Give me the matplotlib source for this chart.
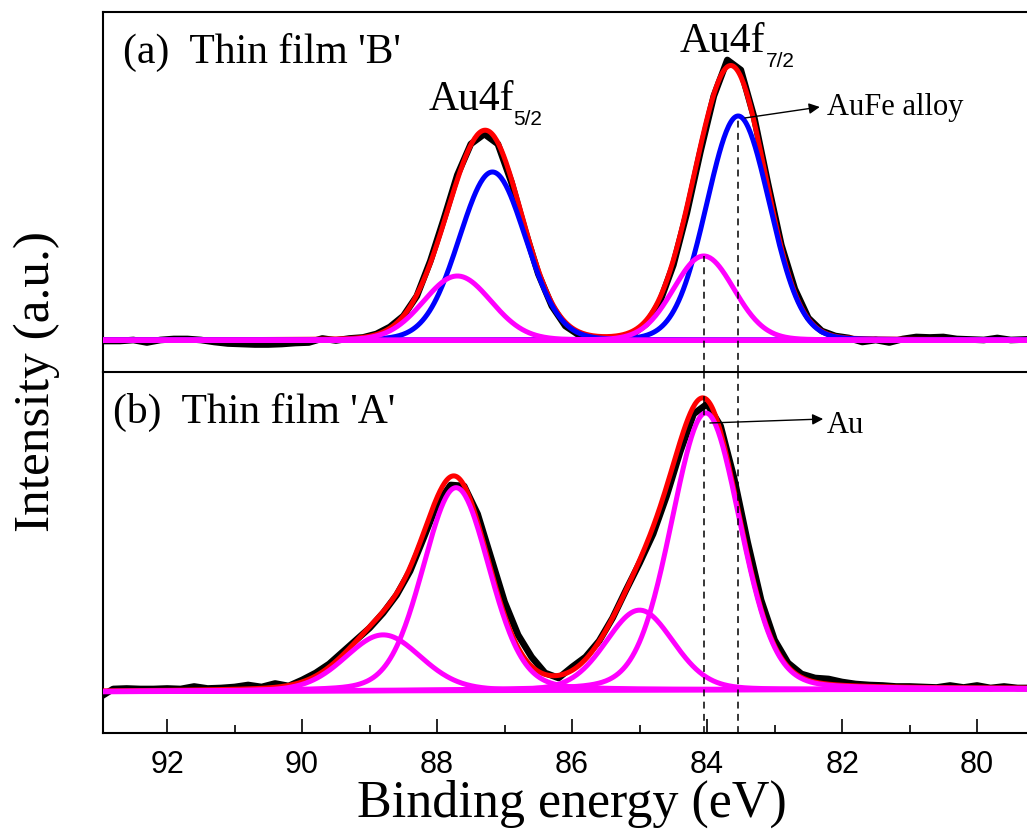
import numpy as np
import matplotlib
matplotlib.use("Agg")
import matplotlib.pyplot as plt
from matplotlib.ticker import MultipleLocator

plt.rcParams["font.family"] = "sans-serif"
plt.rcParams["font.sans-serif"] = ["Liberation Sans", "DejaVu Sans"]
SERIF = "Liberation Serif"

# ---- measured Au4f spectrum, thin film 'B' (panel a) ----
e_filmB = [92.9, 92.7, 92.5, 92.3, 92.1, 91.9, 91.7, 91.5, 91.3, 91.1, 90.9, 90.7,
           90.5, 90.3, 90.1, 89.9, 89.7, 89.5, 89.3, 89.1, 88.9, 88.7, 88.5, 88.3,
           88.1, 87.9, 87.7, 87.5, 87.3, 87.1, 86.9, 86.7, 86.5, 86.3, 86.1, 85.9,
           85.7, 85.5, 85.3, 85.1, 84.9, 84.7, 84.5, 84.3, 84.1, 83.9, 83.7, 83.5,
           83.3, 83.1, 82.9, 82.7, 82.5, 82.3, 82.1, 81.9, 81.7, 81.5, 81.3, 81.1,
           80.9, 80.7, 80.5, 80.3, 80.1, 79.9, 79.7, 79.5, 79.3]
cps_filmB = [-1, -1, 0, -2.5, 0, 1, 1, 0, -2, -3.5, -4, -4.5,
             -4.5, -4, -3, -2.5, 1.5, -0.5, 1.5, 2.5, 6, 13, 24, 44,
             79, 121, 165, 196, 206, 196, 158, 110, 66, 34, 14, 5,
             1.5, 1, 2, 6, 16, 38, 75, 127, 188, 244, 280, 270,
             222, 157, 95, 51, 22, 9, 4, 2, -2, 0, -2.5, 1,
             3, 2.5, 3, 1, 0.5, 0, 2, 0, 0.5]

# ---- measured Au4f spectrum, thin film 'A' (panel b) ----
e_filmA = [92.92, 92.8, 92.6, 92.4, 92.2, 92.0, 91.8, 91.6, 91.4, 91.2, 91.0, 90.8,
           90.6, 90.4, 90.2, 90.0, 89.8, 89.6, 89.4, 89.2, 89.0, 88.8, 88.6, 88.4,
           88.2, 88.0, 87.8, 87.6, 87.4, 87.2, 87.0, 86.8, 86.6, 86.4, 86.2, 86.0,
           85.8, 85.6, 85.4, 85.2, 85.0, 84.8, 84.6, 84.4, 84.2, 84.0, 83.8, 83.6,
           83.4, 83.2, 83.0, 82.8, 82.6, 82.4, 82.2, 82.0, 81.8, 81.6, 81.4, 81.2,
           81.0, 80.8, 80.6, 80.4, 80.2, 80.0, 79.8, 79.6, 79.4, 79.2]
cps_filmA = [-4, 1, 1.5, 1, 1, 1.5, 1, 3.5, 1.5, 2, 3, 5,
             3, 6.5, 4, 10, 17, 26, 38, 50, 62, 77, 95, 119,
             152, 186, 205, 204, 176, 132, 88, 55, 33, 17, 12, 23,
             33, 49, 72, 100, 127, 156, 194, 238, 276, 286, 264, 212,
             148, 90, 50, 27, 16, 12, 11, 8, 6, 5, 4.5, 3.5,
             3.5, 3, 2.5, 4.5, 2.5, 4.5, 2, 3.5, 2, 2]

# ---- fitted components (pseudo-Voigt: centre, height, HWHM) ----
filmB_center = [83.54, 84.05, 87.18, 87.70]
filmB_height = [224, 84, 168, 64]
filmB_hwhm = [0.55, 0.53, 0.58, 0.59]
filmB_phase = ["AuFe", "Au", "AuFe", "Au"]
filmB_eta = 0.05

filmA_center = [84.02, 85.00, 87.72, 88.80]
filmA_height = [277, 80, 203, 56]
filmA_hwhm = [0.60, 0.59, 0.58, 0.66]
filmA_phase = ["Au", "Au", "Au", "Au"]
filmA_eta = 0.15

# linear background (value at high / low energy end)
bg_ends = [92.92, 79.2]
filmB_bg = [0.0, 0.0]
filmA_bg = [-1.7, 1.0]

PHASE_COLOR = {"AuFe": "#0000FF", "Au": "#FF00FF"}
XLIM = (92.95, 79.26)


def pvoigt(x, c, h, w, eta):
    u = (x - c) / w
    return h * ((1 - eta) * np.exp(-np.log(2) * u**2) + eta / (1 + u**2))


def draw_panel(ax, e, cps, centers, heights, hwhms, phases, eta, bg_vals):
    x = np.linspace(bg_ends[0], bg_ends[1], 800)
    bg = np.interp(x, bg_ends[::-1], bg_vals[::-1])
    comps = [pvoigt(x, c, h, w, eta) for c, h, w in zip(centers, heights, hwhms)]
    ax.plot(e, cps, color="black", lw=4.8, solid_joinstyle="round", zorder=2)
    ax.plot(x, bg + np.sum(comps, axis=0), color="#FF0000", lw=3.6, zorder=3)
    for ph in ["AuFe", "Au"]:
        for comp, p in zip(comps, phases):
            if p == ph:
                ax.plot(x, bg + comp, color=PHASE_COLOR[p], lw=3.6, zorder=4)
    ax.plot(x, bg, color="#FF00FF", lw=3.6, zorder=5)


fig = plt.figure(figsize=(10.27, 8.32), dpi=100)
ax_a = fig.add_axes([0.1003, 0.5529, 0.8997, 0.4327])
ax_b = fig.add_axes([0.1003, 0.1190, 0.8997, 0.4339])

draw_panel(ax_a, e_filmB, cps_filmB, filmB_center, filmB_height, filmB_hwhm,
           filmB_phase, filmB_eta, filmB_bg)
draw_panel(ax_b, e_filmA, cps_filmA, filmA_center, filmA_height, filmA_hwhm,
           filmA_phase, filmA_eta, filmA_bg)

ax_a.set_ylim(-32, 328)
ax_b.set_ylim(-43, 318)
for ax in (ax_a, ax_b):
    ax.set_xlim(*XLIM)
    ax.set_yticks([])
    ax.spines["right"].set_visible(False)
    for s in ("left", "top", "bottom"):
        ax.spines[s].set_linewidth(1.5)
ax_a.spines["bottom"].set_visible(False)
ax_a.set_xticks([])

ax_b.set_xticks([92, 90, 88, 86, 84, 82, 80])
ax_b.xaxis.set_minor_locator(MultipleLocator(1))
ax_b.tick_params(axis="x", which="major", direction="in", length=10, width=1.2,
                 labelsize=22, pad=12)
ax_b.tick_params(axis="x", which="minor", direction="in", length=6, width=1.2)

# reference lines at the Au and AuFe 4f7/2 positions
au_e, aufe_e = filmB_center[1], filmB_center[0]
dash = (0, (4.5, 3.5))
ax_a.vlines(aufe_e, -32, filmB_height[0], colors="black", lw=1.1, linestyles=dash, zorder=6)
ax_a.vlines(au_e, -32, filmB_height[1], colors="black", lw=1.1, linestyles=dash, zorder=6)
for xe in (au_e, aufe_e):
    ax_b.axvline(xe, color="black", lw=1.1, linestyle=dash, zorder=6)

# labels
ax_a.text(0.0216, 0.858, "(a)  Thin film 'B'", transform=ax_a.transAxes,
          fontsize=30, family=SERIF, va="baseline")
ax_b.text(0.011, 0.8596, "(b)  Thin film 'A'", transform=ax_b.transAxes,
          fontsize=30, family=SERIF, va="baseline")

ax_a.text(88.13, 230, "Au4f", fontsize=30, family=SERIF, va="baseline")
ax_a.text(86.87, 215, "5/2", fontsize=15, va="baseline")
ax_a.text(84.40, 288, "Au4f", fontsize=30, family=SERIF, va="baseline")
ax_a.text(83.13, 273, "7/2", fontsize=15, va="baseline")

arrow = dict(arrowstyle="-|>", color="black", lw=1.0, mutation_scale=16,
             shrinkA=0, shrinkB=0)
ax_a.annotate("", xy=(82.33, 233), xytext=(83.44, 222), arrowprops=arrow, zorder=7)
ax_a.text(82.23, 225, "AuFe alloy", fontsize=22, family=SERIF, va="baseline")
ax_b.annotate("", xy=(82.28, 271), xytext=(83.96, 267), arrowprops=arrow, zorder=7)
ax_b.text(82.23, 257, "Au", fontsize=22, family=SERIF, va="baseline")

fig.text(0.036, 0.5415, "Intensity (a.u.)", rotation=90, fontsize=37,
         family=SERIF, ha="center", va="center")
fig.text(0.557, 0.018, "Binding energy (eV)", fontsize=37.5, family=SERIF,
         ha="center", va="baseline")

fig.savefig("out.png", dpi=100)
